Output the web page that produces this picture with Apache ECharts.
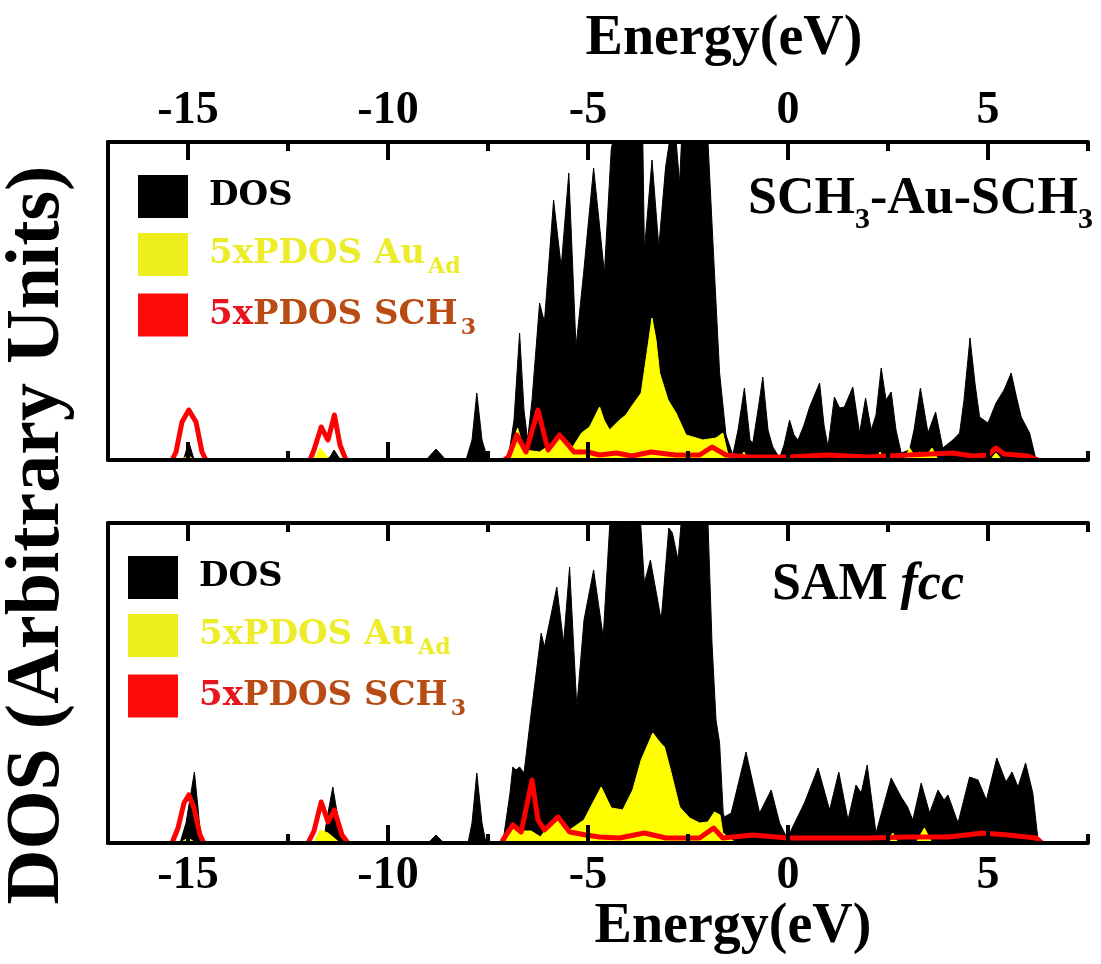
<!DOCTYPE html>
<html>
<head>
<meta charset="utf-8">
<script src="https://cdn.jsdelivr.net/npm/echarts@6/dist/echarts.min.js"></script>
<style>
  html, body { margin: 0; padding: 0; background: #fff; }
  #main { width: 1101px; height: 964px; }
</style>
</head>
<body>
<div id="main"></div>
<script>
// energy axis (eV)
const xMin = -17, xMax = 7.5;
const majorTicks = [-15, -10, -5, 0, 5];
const minorTicks = [-12.5, -7.5, -2.5, 2.5, 7.5];

// top panel: SCH3-Au-SCH3  ([energy, DOS] arbitrary units, null = no curve drawn)
const dosTop = [[-17,0],[-15.2,0],[-15.1,2],[-14.98,18],[-14.86,2],[-14.75,0],
  [-11.6,0],[-11.45,3],[-11.35,10],[-11.22,2],[-11.1,0],
  [-9.05,0],[-8.8,11],[-8.55,0],
  [-8.05,0],[-7.9,20],[-7.78,67],[-7.65,20],[-7.5,0],
  [-7.0,0],[-6.85,40],[-6.71,127],[-6.6,50],[-6.51,20],[-6.4,60],[-6.21,157],[-6.09,138],[-5.86,260],
  [-5.67,193],[-5.48,287],[-5.30,113],[-5.11,187],[-4.86,292],[-4.59,187],[-4.42,310],[-4.29,340],
  [-4.1,360],[-3.9,340],[-3.7,330],[-3.63,320],[-3.59,210],[-3.4,300],[-3.23,213],[-3.06,293],
  [-2.92,330],[-2.8,320],[-2.71,277],[-2.65,330],[-2.4,360],[-2.1,340],[-2.0,318],[-1.88,220],
  [-1.71,87],[-1.55,25],[-1.38,5],[-1.25,30],[-1.09,72],[-0.95,20],[-0.88,17],[-0.75,50],[-0.63,83],
  [-0.5,30],[-0.38,13],[-0.21,2],[-0.1,15],[0.04,40],[0.15,25],[0.25,20],[0.4,35],[0.54,53],[0.79,77],
  [0.9,35],[1.0,13],[1.16,63],[1.29,52],[1.41,53],[1.62,73],[1.79,27],[1.94,62],[2.08,30],[2.2,45],
  [2.33,92],[2.45,60],[2.58,68],[2.7,30],[2.83,7],[3.04,10],[3.15,30],[3.31,72],[3.5,27],[3.69,48],
  [3.87,12],[4.12,20],[4.29,27],[4.4,60],[4.55,122],[4.68,75],[4.79,43],[5.0,37],[5.2,57],[5.4,70],
  [5.58,87],[5.7,65],[5.83,43],[6.04,27],[6.19,2],[6.25,0],[7.5,0]];
const auTop = [[-17,0],[-15.15,0],[-15.0,5],[-14.85,0],
  [-11.85,0],[-11.7,12],[-11.55,5],[-11.45,0],
  [-7.0,0],[-6.76,32],[-6.6,10],[-6.21,8],[-5.95,15],[-5.71,27],[-5.38,13],[-5.16,27],[-4.96,33],
  [-4.71,53],[-4.6,40],[-4.46,30],[-4.21,40],[-4.05,45],[-3.92,53],[-3.67,67],[-3.55,100],[-3.40,142],
  [-3.3,120],[-3.21,87],[-3.0,60],[-2.80,47],[-2.55,25],[-2.13,20],[-1.8,22],[-1.63,27],[-1.5,5],
  [-1.35,0],[-1.2,2],[-1.1,8],[-1.0,0],[2.2,0],[2.3,8],[2.4,0],[2.9,0],[3.04,12],[3.15,5],[3.3,8],
  [3.45,4],[3.6,12],[3.75,0],[5.05,0],[5.2,7],[5.35,0],[7.5,0]];
const schTop = [[-15.4,0],[-15.3,8],[-15.15,38],[-14.98,50],[-14.8,38],[-14.65,8],[-14.55,0],[-13,null],
  [-11.95,0],[-11.85,10],[-11.67,33],[-11.5,20],[-11.34,45],[-11.2,15],[-11.05,0],[-9,null],
  [-7.1,0],[-6.99,3],[-6.78,25],[-6.55,8],[-6.25,50],[-6.0,10],[-5.71,25],[-5.35,8],[-5.01,8],
  [-4.71,5],[-4.29,7],[-3.9,4],[-3.43,8],[-2.81,5],[-2.21,5],[-1.9,13],[-1.55,5],[-1.0,3],[0,3],
  [1,5],[2,3],[3,5],[4.12,7],[4.6,4],[5.0,5],[5.2,12],[5.4,6],[6.0,4],[6.25,0]];

// bottom panel: SAM fcc
const dosBot = [[-17,0],[-15.2,0],[-15.05,20],[-14.84,71],[-14.75,35],[-14.67,0],
  [-11.62,0],[-11.5,30],[-11.38,56],[-11.25,25],[-11.05,0],
  [-9.0,0],[-8.8,8],[-8.6,0],
  [-8.0,0],[-7.9,20],[-7.78,70],[-7.65,20],[-7.55,0],
  [-7.13,0],[-6.95,50],[-6.88,76],[-6.8,73],[-6.71,76],[-6.6,70],[-6.42,130],[-6.17,210],[-6.09,196],
  [-5.78,256],[-5.61,200],[-5.46,276],[-5.28,136],[-5.10,223],[-4.86,273],[-4.62,206],[-4.46,316],
  [-4.3,350],[-3.95,340],[-3.92,310],[-3.88,340],[-3.7,330],[-3.59,260],[-3.44,283],[-3.17,223],
  [-2.98,315],[-2.89,310],[-2.75,283],[-2.65,330],[-2.3,360],[-2.0,320],[-1.9,200],[-1.8,123],
  [-1.71,100],[-1.62,30],[-1.59,26],[-1.42,30],[-1.05,91],[-0.71,30],[-0.42,53],[-0.21,20],[0.0,3],
  [0.08,13],[0.41,40],[0.75,75],[1.04,33],[1.27,71],[1.50,23],[1.70,58],[1.83,50],[1.98,78],[2.2,10],
  [2.58,65],[2.83,46],[2.99,36],[3.12,23],[3.33,60],[3.54,30],[3.75,53],[3.9,43],[4.0,48],[4.25,20],
  [4.54,66],[4.75,63],[4.96,43],[5.22,85],[5.45,61],[5.6,71],[5.75,56],[5.94,80],[6.12,50],[6.25,3],
  [6.3,0],[7.5,0]];
const auBot = [[-17,0],[-15.2,0],[-15.0,5],[-14.8,0],
  [-11.85,0],[-11.7,13],[-11.5,10],[-11.35,5],[-11.2,0],
  [-7.1,0],[-7.04,3],[-6.86,20],[-6.64,12],[-6.42,12],[-6.19,6],[-5.82,26],[-5.46,13],[-5.1,23],
  [-4.88,40],[-4.67,56],[-4.42,35],[-4.13,33],[-3.88,53],[-3.67,83],[-3.38,110],[-3.21,101],[-3.09,96],
  [-2.92,70],[-2.71,36],[-2.46,25],[-2.21,20],[-2.0,21],[-1.84,31],[-1.7,28],[-1.63,10],[-1.46,5],
  [-1.3,0],[2.45,0],[2.62,10],[2.75,0],[3.2,0],[3.41,15],[3.6,0],[7.5,0]];
const schBot = [[-15.4,0],[-15.25,15],[-15.1,40],[-14.98,48],[-14.85,35],[-14.7,8],[-14.6,0],[-13,null],
  [-12.0,0],[-11.85,12],[-11.67,41],[-11.5,21],[-11.34,33],[-11.15,8],[-11.0,0],[-9,null],
  [-7.15,0],[-7.13,3],[-6.88,18],[-6.67,11],[-6.40,63],[-6.25,23],[-6.09,13],[-5.75,26],[-5.46,11],
  [-5.05,8],[-4.71,6],[-4.21,5],[-3.59,10],[-3.05,5],[-2.21,5],[-1.86,15],[-1.63,5],[-0.88,8],[0,5],
  [1,5],[2,5],[3,6],[4,6],[4.87,10],[5.5,8],[6.2,5],[6.35,0]];

const serif = 'Liberation Serif';
const legSerif = 'DejaVu Serif';

let myChart = echarts.init(document.getElementById('main'));

function xAxes(grid, labelSide) {
  let list = [];
  ['bottom', 'top'].forEach(function (pos) {
    list.push({
      type: 'value', gridIndex: grid, position: pos, min: xMin, max: xMax, z: 10,
      axisLine: { show: true, onZero: false, lineStyle: { color: '#000', width: 4 } },
      axisTick: { show: true, inside: true, length: 18, customValues: majorTicks,
        lineStyle: { color: '#000', width: 4 } },
      axisLabel: { show: pos === labelSide, customValues: majorTicks,
        margin: pos === 'top' ? 8 : 10,
        fontFamily: serif, fontWeight: 'bold', fontSize: 46, color: '#000' },
      splitLine: { show: false }
    });
    list.push({
      type: 'value', gridIndex: grid, position: pos, min: xMin, max: xMax, z: 10,
      axisLine: { show: false, onZero: false },
      axisTick: { show: true, inside: true, length: 9, customValues: minorTicks,
        lineStyle: { color: '#000', width: 4 } },
      axisLabel: { show: false },
      splitLine: { show: false }
    });
  });
  return list;
}

function yAxis(grid, max) {
  return {
    type: 'value', gridIndex: grid, position: 'left', min: 0, max: max, z: 10,
    axisLine: { show: true, onZero: false, lineStyle: { color: '#000', width: 4 } },
    axisTick: { show: false }, axisLabel: { show: false }, splitLine: { show: false }
  };
}

function panelSeries(xi, yi, dos, au, sch) {
  return [
    { name: 'DOS', type: 'line', xAxisIndex: xi, yAxisIndex: yi, data: dos, symbol: 'none', z: 2,
      itemStyle: { color: '#000' }, lineStyle: { color: '#000', width: 1 },
      areaStyle: { color: '#000', opacity: 1 } },
    { name: '5xPDOS AuAd', type: 'line', xAxisIndex: xi, yAxisIndex: yi, data: au, symbol: 'none', z: 3,
      itemStyle: { color: '#ffff00' }, lineStyle: { color: '#ffff00', width: 1 },
      areaStyle: { color: '#ffff00', opacity: 1 } },
    { name: '5xPDOS SCH3', type: 'line', xAxisIndex: xi, yAxisIndex: yi, data: sch, symbol: 'none', z: 4,
      connectNulls: false,
      itemStyle: { color: '#ff0000' }, lineStyle: { color: '#ff0000', width: 5, join: 'round' } }
  ];
}

function tok(color, size, extra) {
  return Object.assign({ color: color, fontSize: size, fontFamily: legSerif, fontWeight: 'bold',
    lineHeight: 48 }, extra || {});
}
const legendRich = {
  k: tok('#000', 34, { padding: [0, 0, 0, 16] }),
  y: tok('#ecec2a', 34, { padding: [0, 0, 0, 16] }),
  ys: tok('#ecec2a', 22, { verticalAlign: 'bottom', padding: [0, 0, 0, 3] }),
  r: tok('#e8141e', 34, { padding: [0, 0, 0, 16] }),
  b: tok('#b84c14', 34),
  bs: tok('#b84c14', 22, { verticalAlign: 'bottom', padding: [0, 0, 0, 3] })
};
const legendText = {
  'DOS': '{k|DOS}',
  '5xPDOS AuAd': '{y|5xPDOS Au}{ys|Ad}',
  '5xPDOS SCH3': '{r|5x}{b|PDOS SCH}{bs|3}'
};
function legend(left, top) {
  return {
    left: left, top: top, orient: 'vertical', icon: 'rect', itemWidth: 50, itemHeight: 43,
    itemGap: 15, padding: 0, selectedMode: false,
    data: [
      { name: 'DOS', itemStyle: { color: '#000' } },
      { name: '5xPDOS AuAd', itemStyle: { color: '#eeee1e' } },
      { name: '5xPDOS SCH3', itemStyle: { color: '#ff0a0a' } }
    ],
    formatter: function (name) { return legendText[name]; },
    textStyle: { rich: legendRich }
  };
}

const labelRich = {
  m: { fontFamily: serif, fontWeight: 'bold', fontSize: 52, fill: '#000', lineHeight: 70 },
  s: { fontFamily: serif, fontWeight: 'bold', fontSize: 30, fill: '#000', lineHeight: 70, verticalAlign: 'bottom' },
  i: { fontFamily: serif, fontWeight: 'bold', fontStyle: 'italic', fontSize: 52, fill: '#000', lineHeight: 70 }
};

let option = {
  animation: false,
  backgroundColor: '#fff',
  grid: [
    { left: 108, top: 142, width: 980, height: 318 },
    { left: 108, top: 523, width: 980, height: 320 }
  ],
  xAxis: xAxes(0, 'top').concat(xAxes(1, 'bottom')),
  yAxis: [yAxis(0, 318), yAxis(1, 320)],
  legend: [legend(138, 175), legend(128, 556)],
  series: panelSeries(0, 0, dosTop, auTop, schTop).concat(panelSeries(4, 1, dosBot, auBot, schBot)),
  graphic: [
    { type: 'text', x: 724, y: 40, style: { text: 'Energy(eV)', font: 'bold 56px "Liberation Serif"',
      fill: '#000', align: 'center', verticalAlign: 'middle' } },
    { type: 'text', x: 733, y: 928, style: { text: 'Energy(eV)', font: 'bold 56px "Liberation Serif"',
      fill: '#000', align: 'center', verticalAlign: 'middle' } },
    { type: 'text', x: 38, y: 535, rotation: Math.PI / 2, style: { text: 'DOS (Arbitrary Units)',
      font: 'bold 76px "Liberation Serif"', fill: '#000', align: 'center', verticalAlign: 'middle' } },
    { type: 'text', x: 748, y: 200, z: 20, style: { text: '{m|SCH}{s|3}{m|-Au-SCH}{s|3}', rich: labelRich,
      align: 'left', verticalAlign: 'middle' } },
    { type: 'text', x: 772, y: 586, z: 20, style: { text: '{m|SAM }{i|fcc}', rich: labelRich,
      align: 'left', verticalAlign: 'middle' } }
  ]
};
myChart.setOption(option);
</script>
</body>
</html>
